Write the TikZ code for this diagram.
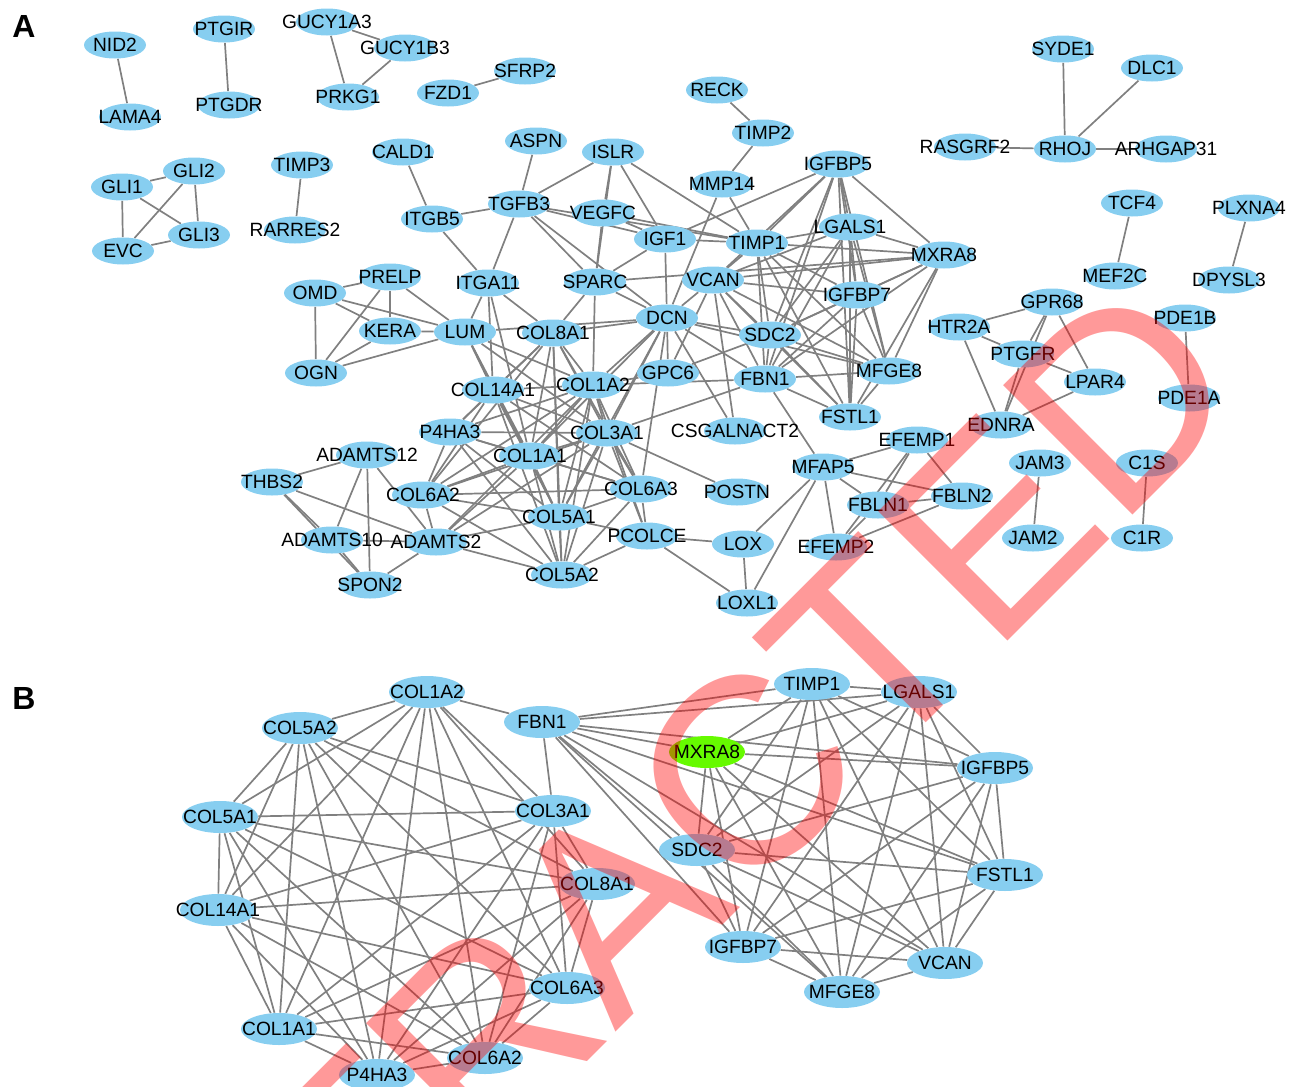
\documentclass[tikz,border=0pt]{standalone}
\usepackage{fontspec}
\setmainfont{Liberation Sans}
\usetikzlibrary{shapes.geometric}
\definecolor{nodeblue}{RGB}{135,206,240}
\definecolor{hubgreen}{RGB}{102,250,0}
\definecolor{lnkgray}{RGB}{128,128,128}
\pgfdeclarelayer{edgelayer}
\pgfsetlayers{edgelayer,main}
\tikzset{
  na/.style={ellipse, fill=nodeblue, draw=none, minimum width=31pt, minimum height=13.5pt, inner sep=0pt},
  nb/.style={ellipse, fill=nodeblue, draw=none, minimum width=38pt, minimum height=16pt, inner sep=0pt},
  txt/.style={inner sep=0pt, font=\fontsize{9.6}{10}\selectfont, text=black},
  lnk/.style={draw=lnkgray, line width=0.85pt},
  panel/.style={inner sep=0pt, font=\bfseries\fontsize{16}{16}\selectfont},
  wmark/.style={inner sep=0pt, text=red, opacity=0.4, rotate=45, font=\fontsize{133}{133}\selectfont}
}
\newcommand\mkA[4]{\node[na] (a#1) at (#2,#3) {}; \node[txt] at (#2,#3) {#4};}
\newcommand\mkB[4]{\node[nb] (b#1) at (#2,#3) {}; \node[txt] at (#2,#3) {#4};}
\begin{document}
\begin{tikzpicture}[x=0.5pt,y=-0.5pt]
\path[use as bounding box] (0,0) rectangle (1297,1087);
\clip (0,0) rectangle (1297,1087);
\node[panel] (labA) at (24,26) {A};
\node[panel] (labB) at (24,698) {B};
% ---------- panel A nodes ----------
\mkA{NID2}{115}{45}{NID2}
\mkA{LAMA4}{130}{117}{LAMA4}
\mkA{PTGIR}{224}{29}{PTGIR}
\mkA{PTGDR}{229}{105}{PTGDR}
\mkA{GUCY1A3}{327}{22}{GUCY1A3}
\mkA{GUCY1B3}{405}{48}{GUCY1B3}
\mkA{PRKG1}{348}{97}{PRKG1}
\mkA{FZD1}{448}{93}{FZD1}
\mkA{SFRP2}{525}{71}{SFRP2}
\mkA{GLI1}{122}{187}{GLI1}
\mkA{GLI2}{194}{171}{GLI2}
\mkA{GLI3}{199}{235}{GLI3}
\mkA{EVC}{123}{251}{EVC}
\mkA{TIMP3}{302}{165}{TIMP3}
\mkA{RARRES2}{295}{230}{RARRES2}
\mkA{CALD1}{403}{152}{CALD1}
\mkA{ITGB5}{432}{219}{ITGB5}
\mkA{RECK}{717}{90}{RECK}
\mkA{TIMP2}{763}{133}{TIMP2}
\mkA{MMP14}{722}{184}{MMP14}
\mkA{SYDE1}{1063}{49}{SYDE1}
\mkA{DLC1}{1152}{68}{DLC1}
\mkA{RASGRF2}{965}{147}{RASGRF2}
\mkA{RHOJ}{1065}{149}{RHOJ}
\mkA{ARHGAP31}{1166}{149}{ARHGAP31}
\mkA{TCF4}{1132}{203}{TCF4}
\mkA{MEF2C}{1115}{276}{MEF2C}
\mkA{PLXNA4}{1249}{208}{PLXNA4}
\mkA{DPYSL3}{1229}{280}{DPYSL3}
\mkA{GPR68}{1052}{302}{GPR68}
\mkA{HTR2A}{959}{327}{HTR2A}
\mkA{PTGFR}{1023}{354}{PTGFR}
\mkA{LPAR4}{1095}{382}{LPAR4}
\mkA{PDE1B}{1185}{318}{PDE1B}
\mkA{PDE1A}{1189}{398}{PDE1A}
\mkA{EDNRA}{1001}{425}{EDNRA}
\mkA{JAM3}{1040}{463}{JAM3}
\mkA{C1S}{1147}{463}{C1S}
\mkA{JAM2}{1033}{538}{JAM2}
\mkA{C1R}{1142}{538}{C1R}
\mkA{ASPN}{536}{141}{ASPN}
\mkA{ISLR}{613}{152}{ISLR}
\mkA{TGFB3}{519}{204}{TGFB3}
\mkA{VEGFC}{603}{213}{VEGFC}
\mkA{IGF1}{665}{239}{IGF1}
\mkA{TIMP1}{757}{243}{TIMP1}
\mkA{IGFBP5}{838}{164}{IGFBP5}
\mkA{LGALS1}{850}{227}{LGALS1}
\mkA{MXRA8}{944}{255}{MXRA8}
\mkA{VCAN}{713}{280}{VCAN}
\mkA{IGFBP7}{857}{295}{IGFBP7}
\mkA{SPARC}{595}{282}{SPARC}
\mkA{ITGA11}{488}{283}{ITGA11}
\mkA{DCN}{667}{318}{DCN}
\mkA{SDC2}{770}{335}{SDC2}
\mkA{FBN1}{765}{379}{FBN1}
\mkA{MFGE8}{889}{371}{MFGE8}
\mkA{FSTL1}{850}{417}{FSTL1}
\mkA{GPC6}{668}{373}{GPC6}
\mkA{CSGALNACT2}{735}{431}{CSGALNACT2}
\mkA{PRELP}{390}{277}{PRELP}
\mkA{OMD}{315}{293}{OMD}
\mkA{KERA}{390}{331}{KERA}
\mkA{LUM}{465}{332}{LUM}
\mkA{OGN}{316}{373}{OGN}
\mkA{COL8A1}{553}{333}{COL8A1}
\mkA{COL14A1}{493}{390}{COL14A1}
\mkA{COL1A2}{593}{385}{COL1A2}
\mkA{P4HA3}{450}{432}{P4HA3}
\mkA{COL3A1}{607}{433}{COL3A1}
\mkA{ADAMTS12}{367}{455}{ADAMTS12}
\mkA{COL1A1}{530}{456}{COL1A1}
\mkA{THBS2}{272}{482}{THBS2}
\mkA{COL6A2}{423}{495}{COL6A2}
\mkA{COL6A3}{641}{489}{COL6A3}
\mkA{POSTN}{737}{492}{POSTN}
\mkA{COL5A1}{559}{517}{COL5A1}
\mkA{ADAMTS10}{332}{540}{ADAMTS10}
\mkA{ADAMTS2}{436}{542}{ADAMTS2}
\mkA{PCOLCE}{647}{536}{PCOLCE}
\mkA{LOX}{743}{544}{LOX}
\mkA{COL5A2}{562}{575}{COL5A2}
\mkA{SPON2}{370}{585}{SPON2}
\mkA{LOXL1}{747}{603}{LOXL1}
\mkA{MFAP5}{823}{467}{MFAP5}
\mkA{EFEMP1}{917}{440}{EFEMP1}
\mkA{FBLN1}{878}{505}{FBLN1}
\mkA{FBLN2}{962}{496}{FBLN2}
\mkA{EFEMP2}{836}{547}{EFEMP2}
% ---------- panel B nodes ----------
\mkB{COL1A2}{427}{692}{COL1A2}
\mkB{COL5A2}{300}{728}{COL5A2}
\mkB{FBN1}{542}{722}{FBN1}
\mkB{COL5A1}{220}{817}{COL5A1}
\mkB{COL3A1}{553}{811}{COL3A1}
\mkB{COL8A1}{597}{884}{COL8A1}
\mkB{COL14A1}{218}{910}{COL14A1}
\mkB{COL6A3}{567}{988}{COL6A3}
\mkB{COL1A1}{279}{1029}{COL1A1}
\mkB{COL6A2}{485}{1058}{COL6A2}
\mkB{P4HA3}{377}{1075}{P4HA3}
\mkB{TIMP1}{812}{684}{TIMP1}
\mkB{LGALS1}{919}{692}{LGALS1}
\node[nb, fill=hubgreen] (bMXRA8) at (707,752) {}; \node[txt] at (707,752) {MXRA8};
\mkB{IGFBP5}{995}{768}{IGFBP5}
\mkB{SDC2}{697}{850}{SDC2}
\mkB{FSTL1}{1005}{875}{FSTL1}
\mkB{IGFBP7}{743}{947}{IGFBP7}
\mkB{VCAN}{945}{963}{VCAN}
\mkB{MFGE8}{842}{992}{MFGE8}
% ---------- edges ----------
\begin{pgfonlayer}{edgelayer}
\foreach \x [count=\i] in {COL1A2,COL5A2,COL5A1,COL14A1,COL1A1,P4HA3,COL6A2,COL6A3,COL8A1,COL3A1}{
  \foreach \y [count=\j] in {COL1A2,COL5A2,COL5A1,COL14A1,COL1A1,P4HA3,COL6A2,COL6A3,COL8A1,COL3A1}{
    \ifnum\i<\j \draw[lnk] (a\x) -- (a\y); \draw[lnk] (b\x) -- (b\y); \fi
  }
}
\foreach \x [count=\i] in {FBN1,TIMP1,LGALS1,MXRA8,IGFBP5,FSTL1,VCAN,MFGE8,IGFBP7,SDC2}{
  \foreach \y [count=\j] in {FBN1,TIMP1,LGALS1,MXRA8,IGFBP5,FSTL1,VCAN,MFGE8,IGFBP7,SDC2}{
    \ifnum\i<\j \draw[lnk] (a\x) -- (a\y); \draw[lnk] (b\x) -- (b\y); \fi
  }
}
\foreach \x/\y in {FBN1/COL1A2,FBN1/COL3A1}{
  \draw[lnk] (a\x) -- (a\y); \draw[lnk] (b\x) -- (b\y);
}
\foreach \x/\y in {OMD/PRELP,OMD/OGN,OMD/KERA,OMD/LUM,PRELP/KERA,PRELP/LUM,PRELP/OGN,KERA/LUM,KERA/OGN,OGN/LUM,
  LUM/ITGA11,LUM/DCN,LUM/COL14A1,LUM/COL1A1,LUM/COL1A2,LUM/COL3A1,LUM/COL5A1,
  ITGA11/COL8A1,ITGA11/COL1A1,ITGA11/COL14A1,ITGA11/ITGB5,ITGA11/TGFB3,
  TGFB3/ITGB5,CALD1/ITGB5,ASPN/TGFB3,ISLR/TGFB3,ISLR/VEGFC,ISLR/IGF1,ISLR/TIMP1,ISLR/SPARC,
  TGFB3/IGF1,TGFB3/TIMP1,TGFB3/SPARC,TGFB3/DCN,VEGFC/TIMP1,VEGFC/SPARC,VEGFC/IGF1,
  IGF1/TIMP1,IGF1/IGFBP5,IGF1/SPARC,IGF1/DCN,
  SPARC/DCN,SPARC/COL1A2,SPARC/COL8A1,SPARC/MXRA8,
  MMP14/TIMP1,MMP14/DCN,TIMP2/MMP14,RECK/TIMP2,
  DCN/SDC2,DCN/FBN1,DCN/GPC6,DCN/COL1A2,DCN/COL3A1,DCN/COL1A1,DCN/COL8A1,DCN/MFGE8,DCN/CSGALNACT2,DCN/VCAN,DCN/COL6A3,DCN/COL5A1,
  VCAN/GPC6,VCAN/CSGALNACT2,GPC6/SDC2,GPC6/COL1A2,
  COL3A1/POSTN,PCOLCE/LOX,PCOLCE/LOXL1,LOX/LOXL1,LOX/MFAP5,LOXL1/MFAP5,PCOLCE/COL5A1,PCOLCE/COL5A2,PCOLCE/COL1A2,PCOLCE/COL3A1,PCOLCE/COL6A3,
  FBN1/MFAP5,MFAP5/EFEMP1,MFAP5/FBLN1,MFAP5/FBLN2,MFAP5/EFEMP2,EFEMP1/FBLN1,EFEMP1/FBLN2,EFEMP1/EFEMP2,FBLN1/FBLN2,FBLN2/EFEMP2,FBLN1/EFEMP2,
  ADAMTS12/THBS2,ADAMTS12/ADAMTS10,ADAMTS12/SPON2,ADAMTS12/ADAMTS2,THBS2/ADAMTS10,THBS2/SPON2,THBS2/ADAMTS2,ADAMTS10/ADAMTS2,ADAMTS10/SPON2,ADAMTS2/SPON2,
  ADAMTS2/COL1A1,ADAMTS2/COL1A2,ADAMTS2/COL5A1,ADAMTS2/COL5A2,ADAMTS2/COL6A2,ADAMTS2/COL3A1,
  NID2/LAMA4,PTGIR/PTGDR,GUCY1A3/GUCY1B3,GUCY1A3/PRKG1,GUCY1B3/PRKG1,FZD1/SFRP2,
  GLI1/GLI2,GLI1/GLI3,GLI1/EVC,GLI2/GLI3,GLI2/EVC,GLI3/EVC,TIMP3/RARRES2,
  RHOJ/SYDE1,RHOJ/DLC1,RHOJ/RASGRF2,RHOJ/ARHGAP31,TCF4/MEF2C,PLXNA4/DPYSL3,PDE1B/PDE1A,JAM3/JAM2,C1S/C1R,
  HTR2A/GPR68,HTR2A/PTGFR,HTR2A/EDNRA,GPR68/PTGFR,GPR68/EDNRA,GPR68/LPAR4,PTGFR/LPAR4,PTGFR/EDNRA,LPAR4/EDNRA}{
  \draw[lnk] (a\x) -- (a\y);
}
\end{pgfonlayer}
% ---------- watermark ----------
\node[wmark] (wm) at (614,905) {RETRACTED};
\end{tikzpicture}
\end{document}
